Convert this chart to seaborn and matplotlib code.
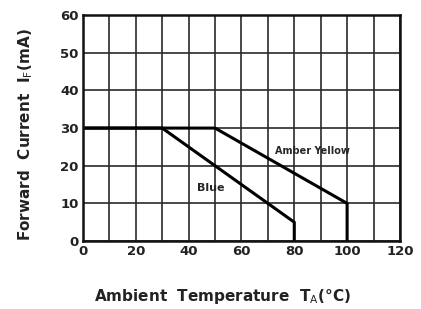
import pandas as pd
import matplotlib.pyplot as plt
import seaborn as sns

# derating curves
blue_temp = [0, 30, 80, 80]
blue_current = [30, 30, 5, 0]
amber_temp = [0, 50, 100, 100]
amber_current = [30, 30, 10, 0]

x_ticks = [0, 20, 40, 60, 80, 100, 120]
y_ticks = [0, 10, 20, 30, 40, 50, 60]

df = pd.concat([
    pd.DataFrame({"temp": blue_temp, "current": blue_current, "led": "Blue"}),
    pd.DataFrame({"temp": amber_temp, "current": amber_current, "led": "Amber Yellow"}),
])

sns.set_theme(style="white")
plt.rcParams["font.family"] = ["DejaVu Sans"]

fig = plt.figure(figsize=(4.21, 3.09), dpi=100)
ax = fig.add_axes([0.197, 0.22, 0.753, 0.731])

sns.lineplot(data=df, x="temp", y="current", units="led", estimator=None,
             sort=False, color="black", linewidth=2.2, ax=ax, legend=False)

ax.set_xlim(0, 120)
ax.set_ylim(0, 60)
ax.set_xticks(x_ticks)
ax.set_yticks(y_ticks)
ax.set_xticks(range(0, 121, 10), minor=True)
ax.grid(True, which="both", color="#2a2a2a", linewidth=1.2)
ax.tick_params(which="both", length=0, labelsize=9.5, pad=3)
for lab in ax.get_xticklabels() + ax.get_yticklabels():
    lab.set_fontweight("bold")
    lab.set_color("#222222")
for sp in ax.spines.values():
    sp.set_color("#111111")
    sp.set_linewidth(1.8)

ax.text(87, 24, "Amber Yellow", fontsize=7, fontweight="bold", ha="center", va="center")
ax.text(48.5, 14, "Blue", fontsize=8, fontweight="bold", ha="center", va="center")

ax.set_xlabel("Ambient  Temperature  T$_{\\rm A}$(°C)", fontsize=11, fontweight="bold",
              color="#222222", va="center")
ax.set_ylabel("Forward  Current  I$_{\\rm F}$(mA)", fontsize=11, fontweight="bold",
              color="#222222", va="center")
ax.xaxis.set_label_coords(0.44, -0.245)
ax.yaxis.set_label_coords(-0.18, 0.47)

fig.savefig("out.png", dpi=100)
